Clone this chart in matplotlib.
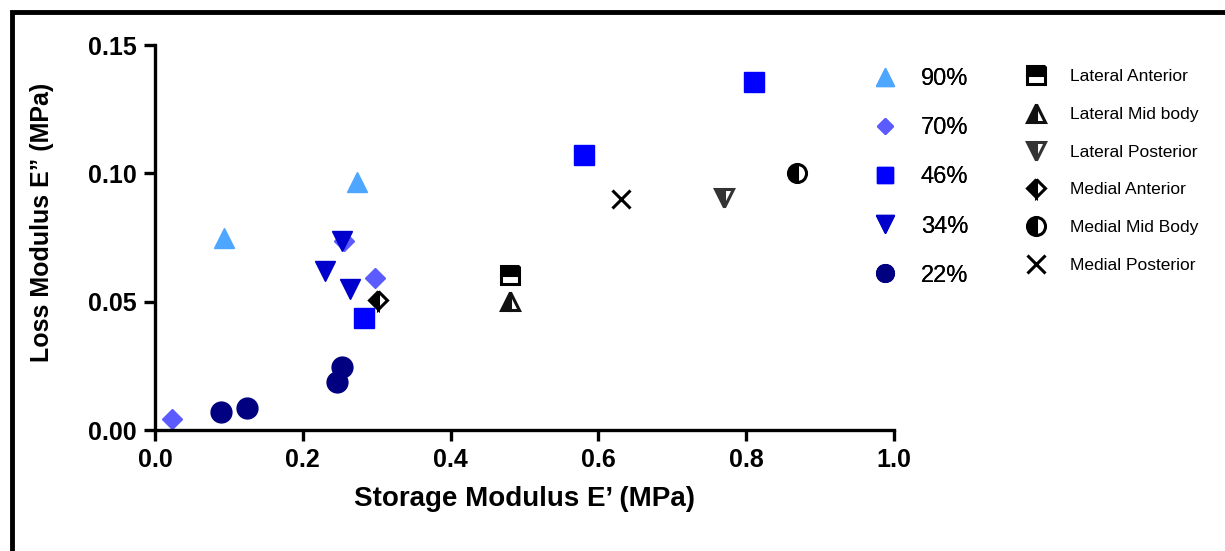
import matplotlib.pyplot as plt
from matplotlib.lines import Line2D
from matplotlib.patches import Rectangle

plt.rcParams['font.family'] = ['Liberation Sans', 'DejaVu Sans']

# porosity groups
groups = ['90%', '70%', '46%', '34%', '22%']
x90 = [0.093, 0.273]
y90 = [0.0748, 0.0965]
x70 = [0.023, 0.256, 0.298]
y70 = [0.0043, 0.0736, 0.0592]
x46 = [0.283, 0.581, 0.811]
y46 = [0.0436, 0.107, 0.1356]
x34 = [0.253, 0.230, 0.264]
y34 = [0.0736, 0.0620, 0.0550]
x22 = [0.090, 0.125, 0.253, 0.246]
y22 = [0.0071, 0.0084, 0.0244, 0.0188]

# tissue regions
regions = ['Lateral Anterior', 'Lateral Mid body', 'Lateral Posterior',
           'Medial Anterior', 'Medial Mid Body', 'Medial Posterior']
xreg = [0.480, 0.480, 0.770, 0.302, 0.869, 0.631]
yreg = [0.0604, 0.0503, 0.0904, 0.0506, 0.1001, 0.0900]

def main():
	fig = plt.figure(figsize=(12.25, 5.51), dpi=100)
	ax = fig.add_axes([0.1265, 0.2196, 0.6033, 0.6987])

	styles = [('^', '#4da6ff', 15, x90, y90),
	          ('D', '#5b5bff', 10, x70, y70),
	          ('s', '#0000ff', 14, x46, y46),
	          ('v', '#0000cc', 15, x34, y34),
	          ('o', '#000080', 15, x22, y22)]
	h1 = []
	for (m, c, ms, xs, ys), lab in zip(styles, groups):
		ax.plot(xs, ys, ls='none', marker=m, color=c, ms=ms, mec=c)
		h1.append(Line2D([], [], ls='none', marker=m, color=c, ms=ms * 0.85, mec=c))

	rstyles = [('s', 'top', 'black'), ('^', 'left', '#111111'), ('v', 'left', '#333333'),
	           ('D', 'left', 'black'), ('o', 'left', 'black'), ('x', 'full', 'black')]
	rsize = [13, 13, 13, 9, 13, 13]
	h2 = []
	for i, (m, fs, c) in enumerate(rstyles):
		kw = dict(ls='none', marker=m, color=c, mec=c, mfc=c, fillstyle=fs,
		          markerfacecoloralt='white', mew=2.2, ms=rsize[i])
		ax.plot([xreg[i]], [yreg[i]], **kw)
		h2.append(Line2D([], [], **kw))

	ax.set_xlim(0, 1.0)
	ax.set_ylim(0, 0.15)
	ax.set_xticks([0.0, 0.2, 0.4, 0.6, 0.8, 1.0])
	ax.set_xticklabels(['0.0', '0.2', '0.4', '0.6', '0.8', '1.0'])
	ax.set_yticks([0.0, 0.05, 0.10, 0.15])
	ax.set_yticklabels(['0.00', '0.05', '0.10', '0.15'])
	for s in ['top', 'right']:
		ax.spines[s].set_visible(False)
	for s in ['left', 'bottom']:
		ax.spines[s].set_linewidth(2.4)
	ax.tick_params(width=2.4, length=8, labelsize=18, pad=5)
	for t in ax.get_xticklabels() + ax.get_yticklabels():
		t.set_fontweight('bold')
	ax.set_xlabel('Storage Modulus E\u2019 (MPa)', fontsize=20, fontweight='bold', labelpad=10)
	ax.set_ylabel('Loss Modulus E\u201d (MPa)', fontsize=18, fontweight='bold')
	ax.yaxis.set_label_coords(-0.137, 0.54)

	leg1 = fig.legend(h1, groups, loc='upper left', bbox_to_anchor=(0.686, 0.915),
	                  frameon=False, fontsize=17, labelspacing=1.15, handletextpad=0.5)
	fig.legend(h2, regions, loc='upper left', bbox_to_anchor=(0.819, 0.903),
	           frameon=False, fontsize=12.5, labelspacing=1.3, handletextpad=0.95)
	fig.add_artist(leg1)

	fig.add_artist(Rectangle((0.0095, -0.1), 1.2, 1.078, transform=fig.transFigure,
	                         fill=False, lw=3.5, ec='black'))
	fig.savefig('out.png', dpi=100)

if __name__ == '__main__':
	main()
